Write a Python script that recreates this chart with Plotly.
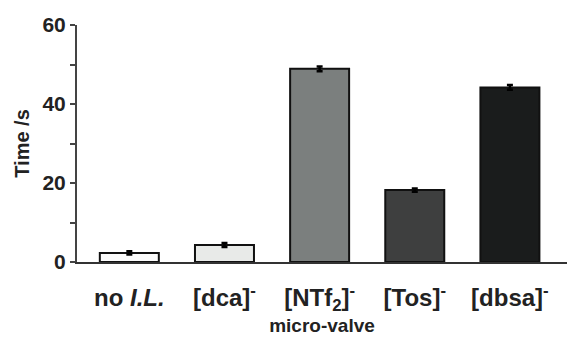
import plotly.graph_objects as go

categories = ["no <i>I.L.</i>", "[dca]<sup>-</sup>", "[NTf<sub>2</sub>]<sup>-</sup>",
              "[Tos]<sup>-</sup>", "[dbsa]<sup>-</sup>"]
times = [2.3, 4.3, 48.9, 18.2, 44.2]
errors = [0.4, 0.5, 0.6, 0.4, 0.6]
colors = ["#fbfbfb", "#e8eae8", "#7b7f7e", "#3e3f3f", "#1a1c1c"]
y_ticks = [0, 20, 40, 60]

fig = go.Figure(go.Bar(
    x=list(range(len(categories))), y=times,
    marker=dict(color=colors, line=dict(color="#111", width=2)),
    width=0.62,
    error_y=dict(type="data", array=errors, color="#000", thickness=2.5, width=3),
))

font = "Liberation Sans, Arial, sans-serif"
fig.update_layout(
    width=567, height=338, margin=dict(l=77, r=0, t=25, b=76),
    plot_bgcolor="white", paper_bgcolor="white", showlegend=False,
    font=dict(family=font, color="#222"),
    xaxis=dict(range=[-0.55, 4.6], tickvals=list(range(len(categories))), ticktext=categories,
               showline=True, linecolor="#333", linewidth=2, ticks="", showgrid=False, zeroline=False,
               ticklabelstandoff=13,
               tickfont=dict(size=24, weight="bold", color="#222"),
               title=dict(text="micro-valve", font=dict(size=19, weight="bold", color="#222"), standoff=5)),
    yaxis=dict(range=[0, 60], tickvals=y_ticks, showline=True, linecolor="#444", linewidth=2,
               ticks="outside", ticklen=5, tickwidth=2, tickcolor="#444", showgrid=False, zeroline=False,
               tickfont=dict(size=21, weight="bold", color="#222"),
               minor=dict(tickvals=[10, 30, 50], ticks="outside", ticklen=5, tickwidth=2, tickcolor="#444"),
               title=dict(text="Time /s", font=dict(size=20, weight="bold", color="#222"), standoff=7)),
)
fig.write_html("out.html")
